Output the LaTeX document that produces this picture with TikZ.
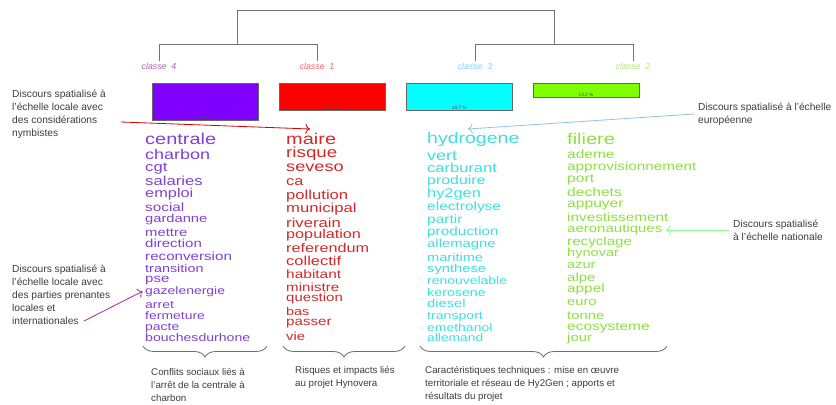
\documentclass[tikz,border=0pt]{standalone}
\usepackage{fontspec}
\setmainfont{Liberation Sans}
\usepackage{graphicx}
\usetikzlibrary{positioning,decorations.pathreplacing,arrows.meta}

\definecolor{barA}{RGB}{127,0,255}
\definecolor{barB}{RGB}{255,0,0}
\definecolor{barC}{RGB}{0,255,255}
\definecolor{barD}{RGB}{128,255,0}
\definecolor{wordA}{RGB}{128,64,214}
\definecolor{wordB}{RGB}{214,40,40}
\definecolor{wordC}{RGB}{64,222,222}
\definecolor{wordD}{RGB}{140,224,64}
\definecolor{noteGray}{RGB}{60,60,60}
\definecolor{braceGray}{RGB}{96,112,128}
\definecolor{skyLine}{RGB}{140,200,225}

\newcommand{\wide}[1]{\scalebox{1.28}[1]{#1}}

\tikzset{
  dendro/.style={draw=black!55, line width=0.8pt},
  bar/.style={draw=black!60, line width=0.5pt, minimum width=3.18cm, anchor=north, inner sep=0pt},
  pct/.style={font=\fontsize{4}{4}\selectfont, text=black!70, anchor=south, inner sep=0.5pt},
  classe/.style={font=\fontsize{7.5}{8}\selectfont\itshape, inner sep=1pt},
  word/.style={anchor=mid west, inner sep=0pt},
  note/.style={font=\fontsize{8.7}{11}\selectfont, text=noteGray, align=left, inner sep=0pt},
  theme/.style={font=\fontsize{8.3}{11}\selectfont, text=noteGray, align=left, inner sep=0pt, anchor=north west},
  curly/.style={draw=braceGray, line width=0.7pt, decorate, decoration={brace, mirror, amplitude=0.33cm, aspect=0.5}},
  pointer/.style={line width=0.7pt, -{To[length=4pt]}}
}

\begin{document}
\begin{tikzpicture}[x=0.03cm, y=-0.03cm]
\useasboundingbox (0,0) rectangle (836,405);

% classes
\node[classe, text=violet!60] (cl4) at (159,66) {classe\ \ 4};
\node[classe, text=red!60] (cl1) at (317,66) {classe\ \ 1};
\node[classe, text=cyan!50] (cl3) at (475,66) {classe\ \ 3};
\node[classe, text=wordD!70] (cl2) at (633,66) {classe\ \ 2};

% dendrogram
\draw[dendro] (cl4.north) -- ++(0,-17) -| (cl1.north);
\draw[dendro] (cl3.north) -- ++(0,-17) -| (cl2.north);
\coordinate (j41) at (237,45);
\coordinate (j32) at (554,45);
\draw[dendro] (j41) -- ++(0,-35) -| (j32);

% bars
\node[bar, fill=barA, minimum height=1.11cm] (bar4) at (205,83) {};
\node[bar, fill=barB, minimum height=0.81cm] (bar1) at (332,83) {};
\node[bar, fill=barC, minimum height=0.81cm] (bar3) at (459.5,83) {};
\node[bar, fill=barD, minimum height=0.42cm] (bar2) at (586,83) {};
\node[pct] (p4) at (bar4.south) {40.9 \%};
\node[pct] (p1) at (bar1.south) {25.2 \%};
\node[pct] (p3) at (bar3.south) {20.7 \%};
\node[pct] (p2) at (bar2.south) {13.2 \%};

% words
\foreach \txt/\sz/\yy [count=\i] in {centrale/13.3/141, charbon/12/156, cgt/11.1/168,
  salaries/11.1/182, emploi/10.9/194, social/10.2/208, gardanne/9.8/219, mettre/9.9/233,
  direction/10/244, reconversion/10.1/257, transition/9.6/269, pse/10/279,
  gazelenergie/9.3/291, arret/9.3/305, fermeture/9.3/316, pacte/9.3/327, bouchesdurhone/9.4/338}
  \node[word, text=wordA, font=\fontsize{\sz}{\sz}\selectfont] (w4-\i) at (145,\yy) {\wide{\txt}};

\foreach \txt/\sz/\yy [count=\i] in {maire/13.3/141, risque/12.5/154, seveso/12.1/168,
  ca/10.9/182, pollution/11.1/196, municipal/11.1/209, riverain/11.1/224, population/10.8/235,
  referendum/10.8/249, collectif/11/262, habitant/10.3/275, ministre/10.1/288,
  question/10/298, bas/9.6/312, passer/10.1/322, vie/9.9/337}
  \node[word, text=wordB, font=\fontsize{\sz}{\sz}\selectfont] (w1-\i) at (286,\yy) {\wide{\txt}};

\foreach \txt/\sz/\yy [count=\i] in {hydrogene/13/140, vert/12/157, carburant/11/169,
  produire/10.6/181, hy2gen/10.9/194, electrolyse/10.3/207, partir/10.3/220, production/10.2/232,
  allemagne/9.9/244, maritime/9.7/258, synthese/9.8/269, renouvelable/9.3/281,
  kerosene/9.5/293, diesel/9.8/304, transport/9.4/316, emethanol/9.3/328, allemand/9.2/338}
  \node[word, text=wordC, font=\fontsize{\sz}{\sz}\selectfont] (w3-\i) at (427,\yy) {\wide{\txt}};

\foreach \txt/\sz/\yy [count=\i] in {filiere/13.3/141, ademe/10.3/155, approvisionnement/10.2/167,
  port/10.4/179, dechets/10.4/193, appuyer/10.4/204, investissement/10.2/218,
  aeronautiques/10/229, recyclage/10.1/242, hynovar/9.7/253, azur/9.7/265, alpe/10/278,
  appel/10.2/289, euro/9.8/302, tonne/9.9/316, ecosysteme/10.3/327, jour/10/338}
  \node[word, text=wordD, font=\fontsize{\sz}{\sz}\selectfont] (w2-\i) at (567,\yy) {\wide{\txt}};

% annotations
\node[note, anchor=north west] (ann1) at (12,90) {Discours spatialisé à\\l'échelle locale avec\\des considérations\\nymbistes};
\node[note, anchor=west] (ann2) at (698,114) {Discours spatialisé à l'échelle\\européenne};
\node[note, anchor=west] (ann3) at (733,230) {Discours spatialisé\\à l'échelle nationale};
\node[note, anchor=north west] (ann4) at (12,265) {Discours spatialisé à\\l'échelle locale avec\\des parties prenantes\\locales et\\internationales};

\coordinate (redtail) at (121,122);
\coordinate (redtip) at (310,129);
\coordinate (bluetip) at (468,129);
\coordinate (purpletail) at (84,321);
\draw[pointer, draw=red!85!black] (redtail) -- (redtip);
\draw[pointer, draw=skyLine] ([xshift=-3pt]ann2.west) -- (bluetip);
\draw[pointer, draw=green!45] ([xshift=-3pt]ann3.west) -- ([xshift=3pt]ann3.west -| w2-8.east);
\draw[pointer, draw=violet!80] (purpletail) -- ([xshift=-2pt]w4-13.west);

% braces and themes
\coordinate (b4a) at (143,346);
\coordinate (b4b) at (267,346);
\coordinate (b1a) at (283,346);
\coordinate (b1b) at (405,346);
\coordinate (b3a) at (420,346);
\coordinate (b3b) at (667,346);
\draw[curly] (b4a) -- (b4b);
\draw[curly] (b1a) -- (b1b);
\draw[curly] (b3a) -- (b3b);

\node[theme] (t4) at (151,368) {Conflits sociaux liés à\\l'arrêt de la centrale à\\charbon};
\node[theme] (t1) at (295,366) {Risques et impacts liés\\au projet Hynovera};
\node[theme] (t3) at (425,366) {Caractéristiques techniques : mise en œuvre\\territoriale et réseau de Hy2Gen ; apports et\\résultats du projet};
\end{tikzpicture}
\end{document}
